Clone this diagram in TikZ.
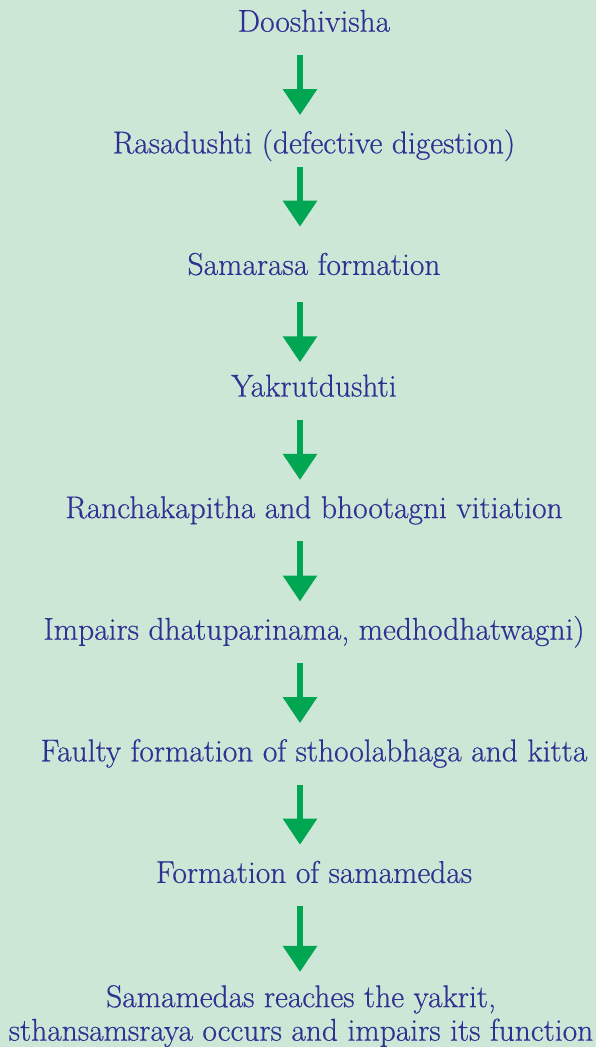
\documentclass[tikz,border=0pt]{standalone}
\usepackage{fontspec}
\newfontfamily\stageface{Latin Modern Roman}[FakeBold=0.5]
\usepackage{tikz}
\usetikzlibrary{arrows.meta}
\definecolor{bggreen}{RGB}{205,231,214}
\definecolor{textblue}{RGB}{46,49,146}
\definecolor{arrowgreen}{RGB}{0,166,81}
\tikzstyle{stage} = [text=textblue, font=\stageface\fontsize{31.5}{33.5}\selectfont,
text height=22pt, text depth=7pt, inner ysep=16pt, inner xsep=0pt]
\tikzstyle{outcome} = [text=textblue, font=\stageface\fontsize{31.5}{33.5}\selectfont,
align=center, inner ysep=13pt, inner xsep=0pt]
\tikzstyle{arrow} =
[draw=arrowgreen, line width=6pt, -{Triangle[width=33pt,length=26pt]}]

\begin{document}
\begin{tikzpicture}[node distance=121.6pt, x=1pt, y=1pt]

\path[use as bounding box, fill=bggreen] (0,0) rectangle (596,-1047);

\node(doosh)[stage] at (314,-24.2){Dooshivisha};
\node(rasaDushti)[stage, below of=doosh]{Rasadushti (defective digestion)};
\node(samaRasa)[stage, below of=rasaDushti]{Samarasa formation};
\node(yakrut)[stage, below of=samaRasa]{Yakrutdushti};
\node(ranchaka)[stage, below of=yakrut]{Ranchakapitha and bhootagni vitiation};
\node(impairs)[stage, below of=ranchaka]{Impairs dhatuparinama, medhodhatwagni)};
\node(faulty)[stage, below of=impairs]{Faulty formation of sthoolabhaga and kitta};
\node(formSama)[stage, below of=faulty]{Formation of samamedas};
\node(reachYakrit)[outcome, below of=formSama, yshift=-19.1pt, xshift=-13pt]{Samamedas reaches the yakrit,\\
sthansamsraya occurs and impairs its function};

\draw[arrow]([xshift=-14pt]doosh.south) -- ([xshift=-14pt]rasaDushti.north);
\draw[arrow]([xshift=-14pt,yshift=10pt]rasaDushti.south) -- ([xshift=-14pt,yshift=10pt]samaRasa.north);
\draw[arrow]([xshift=-14pt,yshift=-4pt]samaRasa.south) -- ([xshift=-14pt,yshift=-4pt]yakrut.north);
\draw[arrow]([xshift=-14pt]yakrut.south) -- ([xshift=-14pt]ranchaka.north);
\draw[arrow]([xshift=-14pt]ranchaka.south) -- ([xshift=-14pt]impairs.north);
\draw[arrow]([xshift=-14pt]impairs.south) -- ([xshift=-14pt]faulty.north);
\draw[arrow]([xshift=-14pt]faulty.south) -- ([xshift=-14pt]formSama.north);
\draw[arrow]([xshift=-14pt]formSama.south) -- ([xshift=-1pt]reachYakrit.north);

\end{tikzpicture}
\end{document}
